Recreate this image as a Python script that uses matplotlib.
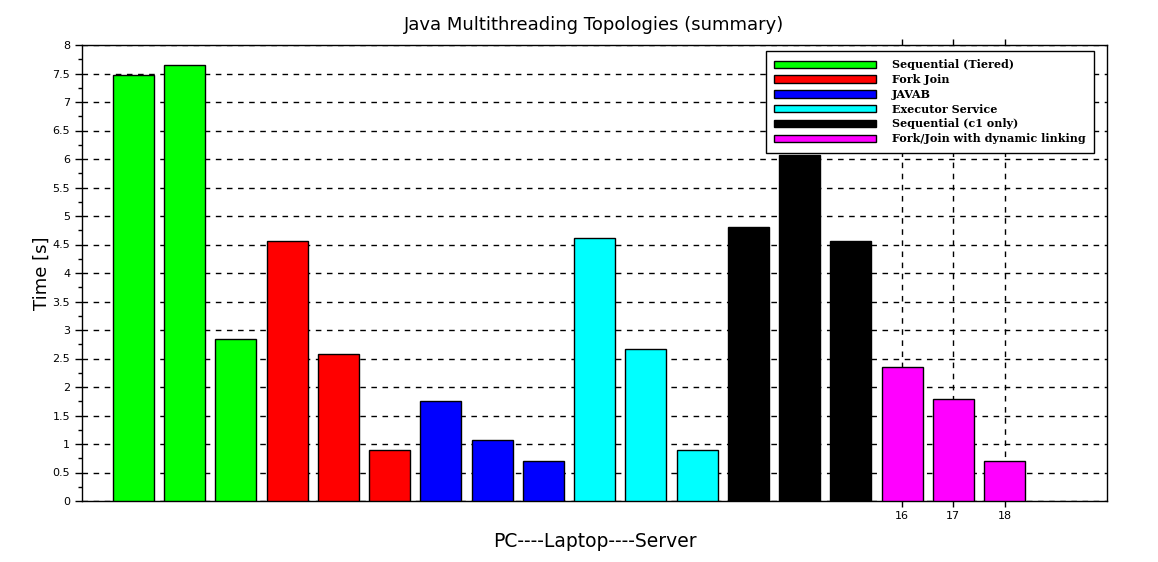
import matplotlib
matplotlib.use("Agg")
import matplotlib.pyplot as plt
from matplotlib.patches import Patch
from matplotlib.ticker import MultipleLocator

series = ["Sequential (Tiered)", "Fork Join", "JAVAB", "Executor Service",
          "Sequential (c1 only)", "Fork/Join with dynamic linking"]
colors = ["#00ff00", "#ff0000", "#0000ff", "#00ffff", "#000000", "#ff00ff"]
values = [
    [7.47, 7.65, 2.84],
    [4.56, 2.58, 0.89],
    [1.75, 1.07, 0.70],
    [4.61, 2.67, 0.89],
    [4.81, 6.07, 4.56],
    [2.35, 1.79, 0.70],
]
xtick_labels = ["16", "17", "18"]
xtick_pos = [16, 17, 18]
ytick_vals = [i * 0.5 for i in range(17)]

fig = plt.figure(figsize=(11.58, 5.62), dpi=100)
ax = fig.add_axes([82/1158, 61/562, (1107-82)/1158, (501-45)/562])

pos = 1
for vals, c in zip(values, colors):
    xs = list(range(pos, pos + len(vals)))
    ax.bar(xs, vals, width=0.8, color=c, edgecolor="black", linewidth=1.0, zorder=3)
    pos += len(vals)

ax.set_xlim(0, 20)
ax.set_ylim(0, 8)
ax.set_yticks(ytick_vals)
ax.set_yticklabels([("%g" % v) for v in ytick_vals], fontsize=8)
ax.yaxis.set_minor_locator(MultipleLocator(0.25))
ax.set_xticks(xtick_pos)
ax.set_xticklabels(xtick_labels, fontsize=8)
ax.tick_params(axis="x", which="both", bottom=True, top=True, direction="out", length=4, width=1, pad=3)
ax.tick_params(axis="y", which="major", left=True, right=False, direction="out", length=5, width=1)
ax.tick_params(axis="y", which="minor", left=True, right=False, direction="out", length=3, width=1)

ax.grid(True, which="major", linestyle=(0, (4, 4)), color="black", linewidth=1, zorder=0)
ax.set_axisbelow(True)
for s in ax.spines.values():
    s.set_linewidth(1)

ax.set_title("Java Multithreading Topologies (summary)", fontsize=13, pad=11)
ax.set_ylabel("Time [s]", fontsize=13, labelpad=1)
ax.set_xlabel("PC----Laptop----Server", fontsize=13.5, labelpad=8)

handles = [Patch(facecolor=c, edgecolor="black", linewidth=1) for c in colors]
leg = ax.legend(handles, series, loc="upper right",
                bbox_to_anchor=(1094/1158, 1 - 51/562), bbox_transform=fig.transFigure,
                borderaxespad=0, fancybox=False, edgecolor="black", framealpha=1,
                handlelength=9.2, handleheight=0.65, handletextpad=1.4, labelspacing=0.34,
                borderpad=0.75, prop={"family": "DejaVu Serif", "weight": "bold", "size": 8})
leg.get_frame().set_linewidth(1)
leg.set_zorder(5)

fig.savefig("out.png", dpi=100)
